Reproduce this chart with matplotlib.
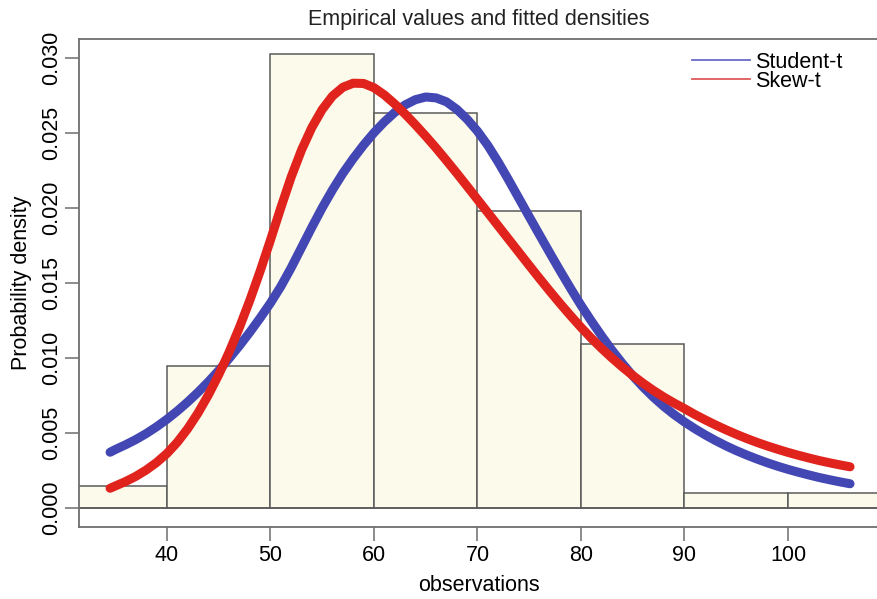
import numpy as np
from matplotlib import pyplot as plt

plt.rcParams['font.family'] = ['Liberation Sans', 'DejaVu Sans']

# histogram (bin edges and densities)
bin_edges = [30, 40, 50, 60, 70, 80, 90, 100, 110]
bin_density = [0.00145, 0.00945, 0.03025, 0.0263, 0.0198, 0.0109, 0.00096, 0.00096]

# fitted densities read along the observation axis
obs_x = [34.5] + list(range(35, 107))
student_t = [0.00370,
             0.00388, 0.00420, 0.00455, 0.00495, 0.00540, 0.00590, 0.00645, 0.00705,
             0.00770, 0.00840, 0.00915, 0.00995, 0.01080, 0.01170, 0.01265, 0.01365,
             0.01475, 0.01600, 0.01735, 0.01870, 0.02000, 0.02120, 0.02230, 0.02328,
             0.02418, 0.02500, 0.02572, 0.02635, 0.02685, 0.02720, 0.02738, 0.02732,
             0.02706, 0.02656, 0.02590, 0.02510, 0.02415, 0.02305, 0.02186, 0.02063,
             0.01940, 0.01818, 0.01697, 0.01578, 0.01462, 0.01350, 0.01245, 0.01145,
             0.01050, 0.00962, 0.00880, 0.00805, 0.00737, 0.00676, 0.00621, 0.00572,
             0.00527, 0.00486, 0.00448, 0.00413, 0.00381, 0.00352, 0.00325, 0.00300,
             0.00277, 0.00256, 0.00237, 0.00219, 0.00202, 0.00187, 0.00173, 0.00160]
skew_t = [0.00130,
          0.00145, 0.00175, 0.00210, 0.00252, 0.00302, 0.00362, 0.00437, 0.00527,
          0.00632, 0.00752, 0.00887, 0.01037, 0.01202, 0.01382, 0.01577, 0.01785,
          0.02000, 0.02205, 0.02385, 0.02535, 0.02655, 0.02745, 0.02803, 0.02830,
          0.02828, 0.02800, 0.02752, 0.02692, 0.02625, 0.02553, 0.02477, 0.02398,
          0.02315, 0.02230, 0.02143, 0.02055, 0.01967, 0.01879, 0.01791, 0.01703,
          0.01615, 0.01528, 0.01443, 0.01360, 0.01280, 0.01203, 0.01130, 0.01062,
          0.00998, 0.00938, 0.00882, 0.00830, 0.00782, 0.00738, 0.00698, 0.00661,
          0.00622, 0.00586, 0.00552, 0.00520, 0.00490, 0.00462, 0.00436, 0.00412,
          0.00390, 0.00369, 0.00350, 0.00332, 0.00315, 0.00300, 0.00286, 0.00273]

x_ticks = [40, 50, 60, 70, 80, 90, 100]
y_ticks = [0.000, 0.005, 0.010, 0.015, 0.020, 0.025, 0.030]

fig = plt.figure(figsize=(8.78, 5.99), dpi=100)
ax = fig.add_axes([0.090, 0.120, 0.910, 0.815])

edge = '#5a5a5a'
frame = '#6e6e6e'

widths = np.diff(bin_edges)
ax.bar(bin_edges[:-1], bin_density, width=widths, align='edge',
       color='#fcfaeb', edgecolor=edge, linewidth=1.1, zorder=1)
ax.axhline(0, color=edge, linewidth=1.1, zorder=2)

ax.plot(obs_x, student_t, color='#4347b3', linewidth=6.5,
        solid_capstyle='round', solid_joinstyle='round', zorder=3)
ax.plot(obs_x, skew_t, color='#e0231c', linewidth=6.5,
        solid_capstyle='round', solid_joinstyle='round', zorder=4)

# legend with thin sample lines
h1, = ax.plot([], [], color='#6a6ac8', linewidth=1.3, label='Student-t')
h2, = ax.plot([], [], color='#dd5a5a', linewidth=1.3, label='Skew-t')
ax.legend(handles=[h1, h2], frameon=False, loc='upper left',
          bbox_to_anchor=(0.748, 1.005), fontsize=15.5, handlelength=2.7,
          handletextpad=0.25, labelspacing=-0.08, borderaxespad=0.3)

ax.set_xlim(31.5, 108.7)
ax.set_ylim(-0.00129, 0.03125)
ax.set_xticks(x_ticks)
ax.set_xticklabels([str(t) for t in x_ticks])
ax.set_yticks(y_ticks)
ax.set_yticklabels(['%.3f' % t for t in y_ticks], rotation=90, va='center')

for side in ['left', 'bottom', 'top']:
    ax.spines[side].set_color(frame)
    ax.spines[side].set_linewidth(1.3)
ax.spines['right'].set_visible(False)
ax.tick_params(axis='both', direction='out', length=10, width=1.1,
               color=frame, labelsize=15.5)
ax.tick_params(axis='x', pad=3)
ax.tick_params(axis='y', pad=2)

ax.set_title('Empirical values and fitted densities', fontsize=15.5, pad=10,
             color='#222222')
ax.set_xlabel('observations', fontsize=15.5, labelpad=6)
ax.set_ylabel('Probability density', fontsize=15.5, labelpad=7)

fig.savefig('out.png', dpi=100)
